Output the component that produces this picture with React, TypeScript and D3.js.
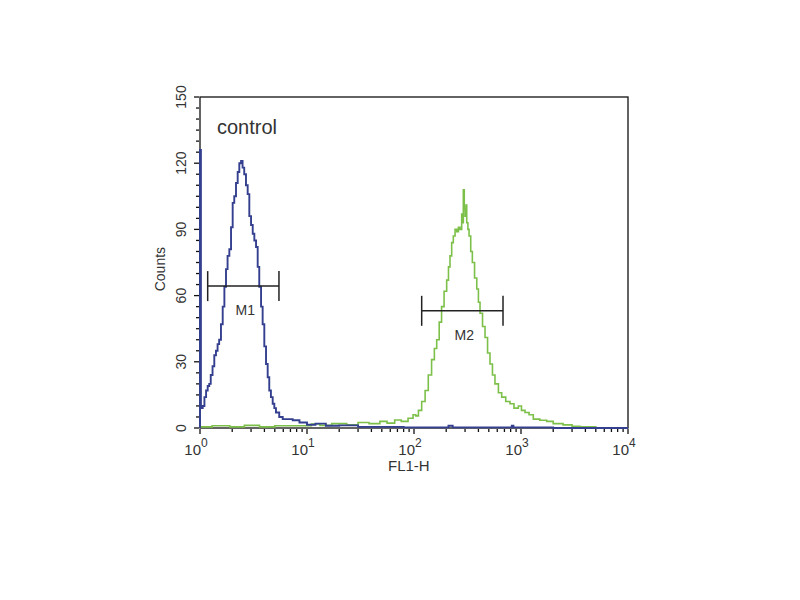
import React, { useEffect, useRef } from 'react'
import * as d3 from 'd3'

// FL1-H intensity (log scale) and event counts
const blueFL = [1, 1, 1.02, 1.06, 1.1, 1.14, 1.18, 1.22, 1.26, 1.31, 1.36, 1.41, 1.46, 1.51, 1.57, 1.63, 1.69, 1.75, 1.81, 1.88, 1.95, 2.02, 2.09, 2.17, 2.25, 2.33, 2.42, 2.5, 2.59, 2.69, 2.79, 2.89, 3.0, 3.11, 3.22, 3.34, 3.46, 3.58, 3.72, 3.85, 3.99, 4.14, 4.29, 4.44, 4.6, 4.78, 4.95, 5.13, 5.5, 5.93, 6.5, 7.35, 8.5, 10, 12, 15, 20, 30, 50, 80, 200, 210, 230, 800, 820, 850, 2000, 10000]
const blueCounts = [0, 126, 9, 10, 14, 17, 19, 20, 24, 28, 33, 35, 38, 40, 47, 55, 64, 72, 78, 81, 91, 102, 105, 111, 116, 120, 121, 118, 115, 110, 106, 96, 92, 88, 85, 82, 73, 64, 55, 47, 37, 29, 23, 17, 14, 11, 9, 7, 5, 4, 4, 3.5, 2.5, 1.5, 2, 1, 1.2, 0.5, 0.5, 0.3, 0.3, 1, 0.3, 0.3, 1, 0.3, 0, 0]

const greenFL = [1, 1.3, 1.9, 2.6, 3.6, 5, 8.6, 11, 13.2, 17, 23.5, 30, 38, 48, 56, 66, 76, 88, 98, 104, 110, 118, 127, 136, 146, 155, 163, 172, 181, 191, 202, 210, 217, 225, 233, 242, 251, 260, 269, 279, 284, 289, 295, 300, 306, 311, 319, 327, 339, 351, 368, 386, 400, 414, 437, 461, 487, 513, 541, 571, 615, 660, 720, 789, 860, 944, 1010, 1090, 1190, 1303, 1500, 1738, 2000, 2470, 3000, 3560, 5000, 10000]
const greenCounts = [0.5, 1, 0.5, 1.2, 0.5, 1, 1, 1.8, 1.2, 2, 1.5, 2.5, 2, 3, 2.2, 3.6, 3, 4.4, 6, 5.5, 8, 12, 17, 24, 31, 36, 40, 48, 55, 62, 67, 73, 78, 84, 87, 90, 89, 91, 90, 97, 93, 108, 99, 96, 101, 93, 90, 87, 80, 75, 68, 63, 57, 52, 46, 41, 34, 29, 24, 20, 16, 14, 12, 11, 9, 10, 8, 7, 6, 4, 3.5, 3, 2, 1.4, 0.8, 0.5, 0, 0]

// marker gates
const markers = [
  { name: 'M1', from: 1.18, to: 5.47, level: 64.3 },
  { name: 'M2', from: 118, to: 679, level: 53.1 },
]

const yTicks = [0, 30, 60, 90, 120, 150]
const xDecades = [0, 1, 2, 3, 4]

const W = 800
const H = 600
const margin = { left: 200, right: 172, top: 97, bottom: 172 }

export default function App() {
  const ref = useRef<SVGSVGElement | null>(null)

  useEffect(() => {
    if (!ref.current) return
    const svg = d3.select(ref.current)
    svg.selectAll('*').remove()

    const x = d3.scaleLog().domain([1, 10000]).range([margin.left, W - margin.right])
    const y = d3.scaleLinear().domain([0, 150]).range([H - margin.bottom, margin.top])
    const font = "'Liberation Sans', Arial, sans-serif"
    const ink = '#333'

    svg.append('rect').attr('width', W).attr('height', H).attr('fill', '#fff')

    // frame (drawn first so the histograms sit on the axes)
    svg
      .append('rect')
      .attr('x', margin.left)
      .attr('y', margin.top)
      .attr('width', W - margin.left - margin.right)
      .attr('height', H - margin.top - margin.bottom)
      .attr('fill', 'none')
      .attr('stroke', '#111')
      .attr('stroke-width', 1.3)

    svg
      .append('clipPath')
      .attr('id', 'plot')
      .append('rect')
      .attr('x', margin.left - 2)
      .attr('y', margin.top - 2)
      .attr('width', W - margin.left - margin.right + 2)
      .attr('height', H - margin.top - margin.bottom + 3)

    const line = (fl: number[], counts: number[]) =>
      d3
        .line<number>()
        .x((_, i) => x(fl[i]))
        .y((d) => y(d))
        .curve(d3.curveStepAfter)(counts)

    const plot = svg.append('g').attr('clip-path', 'url(#plot)')
    plot
      .append('path')
      .attr('d', line(greenFL, greenCounts))
      .attr('fill', 'none')
      .attr('stroke', '#7cc04a')
      .attr('stroke-width', 1.6)
    plot
      .append('path')
      .attr('d', line(blueFL, blueCounts))
      .attr('fill', 'none')
      .attr('stroke', '#34408f')
      .attr('stroke-width', 1.9)

    // y axis ticks
    const yMinor = d3.range(0, 151, 5)
    svg
      .append('g')
      .selectAll('line')
      .data(yMinor)
      .join('line')
      .attr('x1', (d) => margin.left - (d % 30 === 0 ? 6 : 4))
      .attr('x2', margin.left - 1)
      .attr('y1', (d) => y(d))
      .attr('y2', (d) => y(d))
      .attr('stroke', '#111')
      .attr('stroke-width', 1.3)

    svg
      .append('g')
      .selectAll('text')
      .data(yTicks)
      .join('text')
      .attr('transform', (d) => `translate(${margin.left - 14},${y(d)}) rotate(-90)`)
      .attr('text-anchor', 'middle')
      .style('font-family', font)
      .style('font-size', '14px')
      .style('fill', ink)
      .text((d) => d)

    svg
      .append('text')
      .attr('transform', `translate(165,${y(72)}) rotate(-90)`)
      .attr('text-anchor', 'middle')
      .style('font-family', font)
      .style('font-size', '14px')
      .style('fill', ink)
      .text('Counts')

    // x axis ticks (log)
    const xMinor: number[] = []
    for (let e = 0; e < 4; e++) for (let m = 1; m < 10; m++) xMinor.push(m * 10 ** e)
    xMinor.push(10000)
    svg
      .append('g')
      .selectAll('line')
      .data(xMinor)
      .join('line')
      .attr('x1', (d) => x(d))
      .attr('x2', (d) => x(d))
      .attr('y1', y(0) + 1)
      .attr('y2', (d) => y(0) + (Number.isInteger(Math.log10(d)) ? 6 : 4))
      .attr('stroke', '#111')
      .attr('stroke-width', 1.3)

    svg
      .append('g')
      .selectAll('text')
      .data(xDecades)
      .join('text')
      .attr('x', (d) => x(10 ** d) + 1)
      .attr('y', y(0) + 27)
      .attr('text-anchor', 'end')
      .style('font-family', font)
      .style('font-size', '15px')
      .style('fill', ink)
      .text('10')
    svg
      .append('g')
      .selectAll('text')
      .data(xDecades)
      .join('text')
      .attr('x', (d) => x(10 ** d) + 1)
      .attr('y', y(0) + 19)
      .style('font-family', font)
      .style('font-size', '12px')
      .style('fill', ink)
      .text((d) => d)

    svg
      .append('text')
      .attr('x', 388)
      .attr('y', y(0) + 43)
      .style('font-family', font)
      .style('font-size', '15px')
      .style('fill', ink)
      .text('FL1-H')

    svg
      .append('text')
      .attr('x', 217)
      .attr('y', 134)
      .style('font-family', font)
      .style('font-size', '20px')
      .style('fill', ink)
      .text('control')

    // markers
    const mk = svg.append('g').selectAll('g').data(markers).join('g')
    mk.append('line')
      .attr('x1', (d) => x(d.from))
      .attr('x2', (d) => x(d.to))
      .attr('y1', (d) => y(d.level))
      .attr('y2', (d) => y(d.level))
      .attr('stroke', '#222')
      .attr('stroke-width', 1.5)
    mk.selectAll('line.end')
      .data((d) => [d.from, d.to].map((v) => ({ v, level: d.level })))
      .join('line')
      .attr('class', 'end')
      .attr('x1', (e) => x(e.v))
      .attr('x2', (e) => x(e.v))
      .attr('y1', (e) => y(e.level) - 15)
      .attr('y2', (e) => y(e.level) + 15)
      .attr('stroke', '#222')
      .attr('stroke-width', 1.5)
    mk.append('text')
      .attr('x', (d) => (x(d.from) + x(d.to)) / 2 + 2)
      .attr('y', (d) => y(d.level) + 29)
      .attr('text-anchor', 'middle')
      .style('font-family', font)
      .style('font-size', '14px')
      .style('fill', ink)
      .text((d) => d.name)
  }, [])

  return (
    <svg
      ref={ref}
      width={W}
      height={H}
      style={{ position: 'absolute', left: 0, top: 0 }}
      role="img"
      aria-label="Flow cytometry histogram"
    />
  )
}
